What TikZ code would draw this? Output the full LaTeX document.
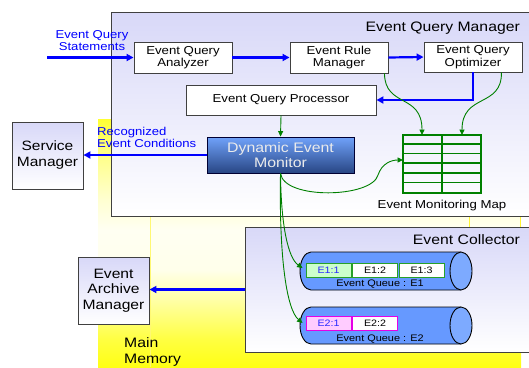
\documentclass[tikz,border=0pt]{standalone}
\usepackage{fontspec}
\setmainfont[FakeStretch=1.15]{Liberation Sans}
\usetikzlibrary{arrows.meta,calc}
\definecolor{lav}{RGB}{216,216,248}
\definecolor{dgreen}{RGB}{0,128,0}
\definecolor{mtop}{RGB}{112,162,250}
\definecolor{mbot}{RGB}{40,70,132}
\definecolor{qblue}{RGB}{102,153,255}
\definecolor{qcap}{RGB}{125,170,255}
\definecolor{ecell}{RGB}{204,255,204}
\definecolor{pcell}{RGB}{255,204,255}
\definecolor{mag}{RGB}{230,0,230}
\definecolor{cgreen}{RGB}{40,160,40}
\definecolor{tblue}{RGB}{40,40,255}
\pgfdeclareverticalshading{memshade}{100bp}{%
  color(0bp)=(yellow!92);
  color(25bp)=(yellow!92);
  color(30.4bp)=(yellow!75);
  color(38.5bp)=(yellow!35);
  color(44.6bp)=(yellow!8);
  color(52.6bp)=(yellow!5);
  color(58.7bp)=(yellow!18);
  color(68.8bp)=(yellow!50);
  color(75bp)=(yellow!80);
  color(100bp)=(yellow!80)}
\begin{document}
\begin{tikzpicture}[x=1pt,y=-1pt,
  container/.style={draw=black!75,line width=1pt,top color=lav,bottom color=white,inner sep=0},
  wbox/.style={draw=black!75,line width=0.9pt,fill=white,inner sep=0,align=center,font=\fontsize{11.5}{12.5}\selectfont},
  lbox/.style={draw=black!75,line width=0.9pt,top color=lav,bottom color=white,inner sep=0,align=center,minimum width=71,minimum height=67},
  barrow/.style={draw=blue,line width=2.2pt,-{Triangle[length=7pt,width=7pt]}},
  garrow/.style={draw=dgreen,line width=0.9pt,-{Triangle[length=5.5pt,width=5pt]}},
  blab/.style={text=blue,font=\fontsize{11.4}{12.5}\selectfont,inner sep=0},
  ecellst/.style={draw=cgreen,line width=0.9pt,fill=white,minimum width=45,minimum height=14,inner sep=0,font=\fontsize{9.3}{10}\selectfont},
  pcellst/.style={draw=mag,line width=0.9pt,fill=white,minimum width=45,minimum height=14,inner sep=0,font=\fontsize{9.3}{10}\selectfont},
  qlab/.style={inner sep=0,font=\fontsize{9.5}{10}\selectfont}
]
\useasboundingbox (0,0) rectangle (529,367);
% main memory
\shade[shading=memshade] (98,119) rectangle (521,367);
\draw[yellow!55,line width=0.8pt] (150,216) -- (150,367);
\draw[yellow!80,line width=0.8pt] (469,216) -- (469,227) (520,216) -- (520,227);
\node[anchor=north west,align=left,inner sep=0,font=\fontsize{13.7}{16}\selectfont] (mm) at (124,337) {Main\\Memory};

% Event Query Manager
\node[container,minimum width=424,minimum height=204] (eqm) at (323,114) {};
\node[anchor=base east,inner sep=0,font=\fontsize{13.7}{15}\selectfont] (eqmt) at (520,31) {Event Query Manager};

\node[wbox,minimum width=98,minimum height=31] (eqa) at (183,57.5) {Event Query\\Analyzer};
\node[wbox,minimum width=98,minimum height=31] (erm) at (339,57.5) {Event Rule\\Manager};
\node[wbox,minimum width=98,minimum height=30] (eqo) at (473,57) {Event Query\\Optimizer};
\node[wbox,minimum width=190,minimum height=30] (eqp) at (281,100) {Event Query Processor};
\node[draw=black!80!blue,line width=0.9pt,top color=mtop,bottom color=mbot,inner sep=0,align=center,
      minimum width=147,minimum height=36,text=white!92!black,font=\fontsize{13.8}{15}\selectfont] (mon) at (280.5,155) {Dynamic Event\\Monitor};

% Event monitoring map
\node[draw=dgreen,line width=1.6pt,minimum width=78,minimum height=58,inner sep=0] (map) at (442,164) {};
\foreach \i in {1,...,5} {\draw[dgreen,line width=1.6pt] ($(map.north west)+(0,\i*9.667)$) -- ($(map.north east)+(0,\i*9.667)$);}
\draw[dgreen,line width=1.6pt] (map.north) -- (map.south);
\node[anchor=base,inner sep=0,font=\fontsize{11.5}{13}\selectfont] (mapl) at (442,208) {Event Monitoring Map};
\coordinate (m1) at (422,135);
\coordinate (m2) at (462,135);
\coordinate (m3) at (403,160);

% side managers
\node[lbox,font=\fontsize{13.5}{16}\selectfont] (sm) at (47.5,155.5) {Service\\Manager};
\node[lbox,font=\fontsize{13.6}{15.5}\selectfont] (arch) at (113.5,290.5) {Event\\Archive\\Manager};

% Event collector
\node[container,minimum width=290,minimum height=125] (ec) at (390,289.5) {};
\node[anchor=base east,inner sep=0,font=\fontsize{13.7}{15}\selectfont] (ect) at (520,244) {Event Collector};

% queue E1
\draw[black,line width=0.9pt,fill=qblue] (461,252) -- (311,252) arc[start angle=270,end angle=90,x radius=11,y radius=19] -- (461,290);
\draw[black,line width=0.9pt,fill=qcap] (461,271) ellipse [x radius=11,y radius=19];
\node[ecellst,fill=ecell,text=tblue] (e11) at (328.5,270) {E1:1};
\node[ecellst] (e12) at (375,270) {E1:2};
\node[ecellst] (e13) at (421.5,270) {E1:3};
\node[qlab] (q1) at (380,284) {Event Queue : E1};
% queue E2
\draw[black,line width=0.9pt,fill=qblue] (461,307) -- (311,307) arc[start angle=270,end angle=90,x radius=11,y radius=18.5] -- (461,344);
\draw[black,line width=0.9pt,fill=qcap] (461,325.5) ellipse [x radius=11,y radius=18.5];
\node[pcellst,fill=pcell,text=tblue] (e21) at (328.5,323.5) {E2:1};
\node[pcellst] (e22) at (375,323.5) {E2:2};
\node[qlab] (q2) at (380,339) {Event Queue : E2};

% blue arrows
\coordinate (src) at (47,57.5);
\draw[barrow] (src) -- (eqa.west);
\node[blab,align=center] (stl) at (92,40.5) {Event Query\\Statements};
\draw[barrow] (eqa.east) -- (erm.west);
\draw[barrow] (erm.east) -- (eqo.west);
\draw[barrow] (eqo.south) |- (eqp.east);
\draw[barrow] (mon.west) -- (sm.east |- mon.west);
\node[blab,align=left,anchor=west] (rec) at (97,137.5) {Recognized\\Event Conditions};
\draw[barrow] (ec.west) -- (arch.east |- ec.west);

% green arrows
\draw[garrow] (eqp.south) -- (mon.north);
\draw[garrow] (erm.south east) ++(-4,0) .. controls (385,108) and (422,93) .. (m1);
\draw[garrow] (eqo.south east) ++(-21,0) .. controls (502,108) and (462,93) .. (m2);
\draw[garrow] (mon.south) .. controls (284,200) and (372,198) .. (378,175) .. controls (382,163) and (392,160) .. (m3);
\draw[garrow] (mon.south) .. controls (281,225) and (288,258) .. ($(e11.west)+(-3,-2)$);
\draw[garrow] (mon.south) .. controls (279,260) and (287,310) .. ($(e21.west)+(-3,-0.5)$);
\end{tikzpicture}
\end{document}
